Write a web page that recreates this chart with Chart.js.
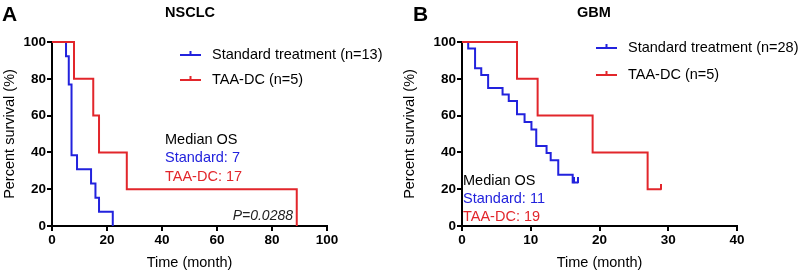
<!DOCTYPE html>
<html>
<head>
<meta charset="utf-8">
<script src="https://cdn.jsdelivr.net/npm/chart.js@4"></script>
<style>
  body { margin: 0; background: #fff; }
  #wrap { position: relative; width: 811px; height: 273px; }
  canvas { position: absolute; top: 0; }
</style>
</head>
<body>
<div id="wrap">
  <canvas id="chartA" width="400" height="273" style="left:0;width:400px;height:273px"></canvas>
  <canvas id="chartB" width="411" height="273" style="left:400px;width:411px;height:273px"></canvas>
</div>
<script>
// Kaplan-Meier steps (time in months, survival in %)
const nsclcStdTime = [0, 5.1, 6.1, 7.1, 9.1, 14.2, 15.8, 17.1, 22.1];
const nsclcStdSurv = [100, 92.3, 76.9, 38.5, 30.8, 23.1, 15.4, 7.7, 0];
const nsclcDcTime = [0, 8, 15, 17.1, 27.2, 89];
const nsclcDcSurv = [100, 80, 60, 40, 20, 0];

const gbmStdTime = [0, 0.9, 1.9, 2.8, 3.8, 5.9, 6.8, 8, 9.1, 10.1, 10.8, 12.3, 12.9, 14, 16.1, 16.9];
const gbmStdSurv = [100, 96.4, 85.7, 82.1, 75, 71.4, 67.9, 60.7, 56.5, 52.5, 43.5, 39.7, 35.7, 27.8, 23.6, 23.6];
const gbmStdCensor = [16.3, 16.9];
const gbmDcTime = [0, 8, 11, 19, 27, 29];
const gbmDcSurv = [100, 80, 60, 40, 20, 20];
const gbmDcCensor = [29];

const yTicks = [0, 20, 40, 60, 80, 100];
const nsclcXTicks = [0, 20, 40, 60, 80, 100];
const gbmXTicks = [0, 10, 20, 30, 40];

const BLUE = '#2222dd';
const RED = '#e2262b';
const FONT = "'Liberation Sans', Arial, Helvetica, sans-serif";

// survival value at time t (for placing censor ticks on the curve)
function survAt(times, surv, t) {
    let s = surv[0];
    times.forEach((tt, i) => { if (tt <= t) s = surv[i]; });
    return s;
}

function toPoints(times, surv) {
    return times.map((t, i) => ({ x: t, y: surv[i] }));
}

// small upward tick used as the censor mark
function censorMark(color) {
    const c = document.createElement('canvas');
    c.width = 2; c.height = 11;
    const g = c.getContext('2d');
    g.fillStyle = color;
    g.fillRect(0, 0, 2, 6);
    return c;
}

function curve(times, surv, color) {
    return {
        type: 'line', data: toPoints(times, surv), stepped: true,
        borderColor: color, borderWidth: 2, pointRadius: 0, fill: false, clip: false
    };
}

function censors(times, surv, cens, color) {
    return {
        type: 'line', showLine: false, clip: false,
        data: cens.map(t => ({ x: t, y: survAt(times, surv, t) })),
        pointStyle: censorMark(color), pointRadius: 3, borderColor: color
    };
}

function axes(xTicks, yWidth) {
    const tickFont = { family: FONT, size: 13.5, weight: 'bold' };
    const titleFont = { family: FONT, size: 14.5 };
    const grid = { drawOnChartArea: false, color: '#000', lineWidth: 2, tickLength: 5, tickWidth: 2 };
    return {
        x: {
            type: 'linear', min: xTicks[0], max: xTicks[xTicks.length - 1],
            afterBuildTicks: s => { s.ticks = xTicks.map(v => ({ value: v })); },
            ticks: { color: '#000', font: tickFont, padding: 1, maxRotation: 0, autoSkip: false },
            grid: grid, border: { color: '#000', width: 2 },
            title: { display: true, text: 'Time (month)', color: '#000', font: titleFont, padding: { top: 0, bottom: 1 } },
            afterFit: s => { s.height = 47; }
        },
        y: {
            type: 'linear', min: 0, max: 100,
            afterBuildTicks: s => { s.ticks = yTicks.map(v => ({ value: v })); },
            ticks: { color: '#000', font: tickFont, padding: 1 },
            grid: grid, border: { color: '#000', width: 2 },
            title: { display: true, text: 'Percent survival (%)', color: '#000', font: titleFont, padding: { top: 1, bottom: 0 } },
            afterFit: s => { s.width = yWidth; }
        }
    };
}

// letter, title, legend and notes drawn on top of each panel
const panelText = {
    id: 'panelText',
    afterDraw(chart, args, o) {
        const ctx = chart.ctx;
        ctx.save();
        ctx.textBaseline = 'middle';
        ctx.fillStyle = '#000';
        ctx.font = `bold 21px ${FONT}`;
        ctx.textAlign = 'left';
        ctx.fillText(o.letter, o.letterX, 15);
        ctx.font = `bold 14.5px ${FONT}`;
        ctx.textAlign = 'center';
        ctx.fillText(o.title, o.titleX, 13);

        ctx.font = `14.5px ${FONT}`;
        ctx.textAlign = 'left';
        o.legend.forEach((item, i) => {
            const y = o.legendY[i];
            ctx.strokeStyle = item.color;
            ctx.lineWidth = 2;
            ctx.beginPath();
            ctx.moveTo(o.legendX, y);
            ctx.lineTo(o.legendX + 21, y);
            ctx.moveTo(o.legendX + 10.5, y - 4);
            ctx.lineTo(o.legendX + 10.5, y);
            ctx.stroke();
            ctx.fillStyle = '#000';
            ctx.fillText(item.label, o.legendX + 32, y);
        });

        o.notes.forEach((n, i) => {
            ctx.fillStyle = n.color;
            ctx.fillText(n.text, o.notesX, o.notesY[i]);
        });

        if (o.pValue) {
            ctx.fillStyle = '#222';
            ctx.font = `italic 14px ${FONT}`;
            ctx.textAlign = 'right';
            ctx.fillText(o.pValue, o.pX, o.pY);
        }
        ctx.restore();
    }
};

function makeChart(id, datasets, xTicks, yWidth, padRight, text) {
    return new Chart(document.getElementById(id), {
        data: { datasets: datasets },
        options: {
            responsive: false,
            animation: false,
            layout: { padding: { left: 0, top: 42, right: padRight, bottom: 0 } },
            scales: axes(xTicks, yWidth),
            plugins: { legend: { display: false }, tooltip: { enabled: false }, panelText: text }
        },
        plugins: [panelText]
    });
}

makeChart('chartA', [
    curve(nsclcDcTime, nsclcDcSurv, RED),
    curve(nsclcStdTime, nsclcStdSurv, BLUE)
], nsclcXTicks, 52, 73, {
    letter: 'A', letterX: 2, title: 'NSCLC', titleX: 190,
    legendX: 180, legendY: [55, 80],
    legend: [
        { label: 'Standard treatment (n=13)', color: BLUE },
        { label: 'TAA-DC (n=5)', color: RED }
    ],
    notesX: 165, notesY: [140, 158, 177],
    notes: [
        { text: 'Median OS', color: '#000' },
        { text: 'Standard: 7', color: BLUE },
        { text: 'TAA-DC: 17', color: RED }
    ],
    pValue: 'P=0.0288', pX: 293, pY: 216
});

makeChart('chartB', [
    curve(gbmDcTime, gbmDcSurv, RED),
    censors(gbmDcTime, gbmDcSurv, gbmDcCensor, RED),
    curve(gbmStdTime, gbmStdSurv, BLUE),
    censors(gbmStdTime, gbmStdSurv, gbmStdCensor, BLUE)
], gbmXTicks, 62, 74, {
    letter: 'B', letterX: 13, title: 'GBM', titleX: 194,
    legendX: 196, legendY: [48, 75],
    legend: [
        { label: 'Standard treatment (n=28)', color: BLUE },
        { label: 'TAA-DC (n=5)', color: RED }
    ],
    notesX: 63, notesY: [181, 199, 217],
    notes: [
        { text: 'Median OS', color: '#000' },
        { text: 'Standard: 11', color: BLUE },
        { text: 'TAA-DC: 19', color: RED }
    ]
});
</script>
</body>
</html>
